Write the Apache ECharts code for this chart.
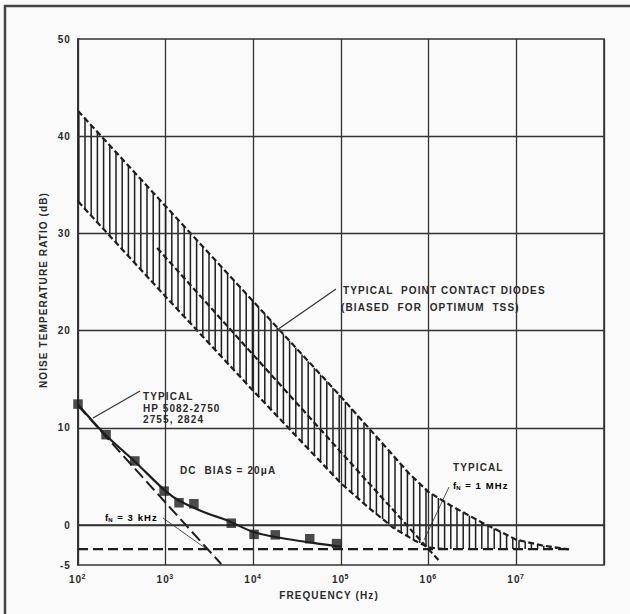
<!DOCTYPE html>
<html><head><meta charset="utf-8">
<script src="https://cdn.jsdelivr.net/npm/echarts@6/dist/echarts.min.js"></script>
<style>html,body{margin:0;padding:0;background:#fafafa}#c{width:630px;height:614px}#c svg text{letter-spacing:1.1px}</style>
</head><body><div id="c"></div>
<script>
// ---- data ----
const yTickValues = [-4.1, 0, 10, 20, 30, 40, 50];
const yTickLabels = ['-5', '0', '10', '20', '30', '40', '50'];
const yGridValues = [0, 10, 20, 30, 40];
const xMaxLabelExp = 7;

// point contact diode band: upper boundary
const upperBound = [[1e2,42.6],[1e3,32.8],[1e4,23.0],[1e5,13.2],[6e5,5.3],[1e6,3.4],[1.8e6,2.0],[4e6,0.3],[1e7,-1.5],[2e7,-2.1],[4e7,-2.5]];
// lower boundary
const lowerBound = [[1e2,33.3],[1e3,23.5],[1e4,13.8],[1e5,4.3],[2e5,1.9],[4e5,-0.3],[7e5,-1.6],[1e6,-2.3],[1.5e6,-2.46]];
// typical fN = 1 MHz asymptote
const typical1MHz = [[8e2,28.5],[1e4,17.5],[1e5,7.5],[1e6,-2.5],[1.3e6,-3.6]];
// noise floor
const floorLine = [[1e2,-2.46],[4e7,-2.46]];
// fN = 3 kHz asymptote
const asym3kHz = [[1e2,12.3],[1e3,2.3],[4.3e3,-4.0]];
// HP 5082-2750 typical curve
const hpCurve = [[1e2,12.4],[2e2,9.4],[4.5e2,6.5],[1e3,3.5],[1.5e3,2.4],[3e3,1.2],[5e3,0.5],[1e4,-0.7],[2e4,-1.3],[5e4,-1.85],[1e5,-2.2]];
// measured points
const hpPoints = [[100,12.45],[209,9.3],[445,6.6],[960,3.5],[1420,2.3],[2100,2.2],[5600,0.2],[10200,-0.95],[17800,-1.0],[44000,-1.4],[89000,-1.9]];

// ---- styles ----
const INK = '#1e1e1e';
const TXT = '#2a2a2a';
const FONT = '"Liberation Sans", Arial, sans-serif';
const HATCH_STEP = 6.2;

const chart = echarts.init(document.getElementById('c'), null, {renderer:'svg'});

function dashed(data, dash, w) {
  return {type:'line', data, showSymbol:false, symbol:'none', silent:true, animation:false,
    lineStyle:{color:INK, width:w, type:dash}, z:4};
}
function yAt(poly, x) {
  for (let i = 0; i < poly.length - 1; i++) {
    const a = poly[i], b = poly[i + 1];
    if (x >= a[0] && x <= b[0]) return a[1] + (b[1] - a[1]) * (x - a[0]) / (b[0] - a[0]);
  }
  return null;
}

const bandLower = lowerBound.concat([floorLine[1]]);

const subRich = {
  a:{fontFamily:FONT, fontSize:9.5, fontWeight:'bold', color:TXT},
  s:{fontFamily:FONT, fontSize:6, fontWeight:'bold', color:TXT, padding:[5,1,0,0]}
};

const option = {
  backgroundColor:'#fafafa',
  animation:false,
  grid:{left:78, right:26, top:39, bottom:49, show:true, borderColor:'#333', borderWidth:1.6},
  xAxis:{type:'log', logBase:10, min:1e2, max:1e8,
    axisLine:{show:true, lineStyle:{color:'#333', width:1.6}},
    axisTick:{show:false},
    splitLine:{show:true, lineStyle:{color:'#333', width:1.3}},
    axisLabel:{margin:8, formatter:v => { const e = Math.round(Math.log10(v)); return e > xMaxLabelExp ? '' : '{b|10}{s|' + e + '}'; },
      rich:{b:{fontFamily:FONT, fontSize:10, fontWeight:'bold', color:TXT}, s:{fontFamily:FONT, fontSize:7, fontWeight:'bold', color:TXT, verticalAlign:'top', padding:[0,0,6,1]}}}
  },
  yAxis:{type:'value', min:-4.1, max:50,
    axisLine:{show:true, lineStyle:{color:'#333', width:1.6}},
    axisTick:{show:false},
    splitLine:{show:false},
    axisLabel:{customValues:yTickValues, margin:7, fontFamily:FONT, fontSize:10, fontWeight:'bold', color:TXT,
      formatter:v => { const i = yTickValues.indexOf(v); return i < 0 ? '' : yTickLabels[i]; }}
  },
  series:[
    {type:'custom', coordinateSystem:'cartesian2d', silent:true, z:2, clip:true,
      data:[[1e3,10]],
      renderItem:(params, api) => {
        const up = upperBound.map(p => api.coord(p));
        const lo = bandLower.map(p => api.coord(p));
        const children = [];
        for (let x = up[0][0] + 0.8; x < up[up.length - 1][0]; x += HATCH_STEP) {
          const ya = yAt(up, x), yb = yAt(lo, x);
          if (ya != null && yb != null && yb - ya > 1)
            children.push({type:'line', shape:{x1:x, y1:ya, x2:x, y2:yb}, style:{stroke:INK, lineWidth:1.5}});
        }
        return {type:'group', children};
      }},
    Object.assign(dashed(floorLine, [10,5], 2.2), {
      markLine:{silent:true, symbol:['none','none'], label:{show:false}, animation:false,
        lineStyle:{color:'#333', type:'solid', width:1.3},
        data: yGridValues.map(v => ({yAxis:v}))}}),
    dashed(upperBound, [6,3], 2.2),
    dashed(lowerBound, [6,3], 2.2),
    dashed(typical1MHz, [6,3], 2.2),
    dashed(asym3kHz, [12,5], 2),
    {type:'line', data:hpCurve, smooth:0.35, showSymbol:false, symbol:'none', silent:true, z:5,
      lineStyle:{color:INK, width:2.2}},
    {type:'scatter', data:hpPoints, symbol:'rect', symbolSize:9.5, silent:true, z:6,
      itemStyle:{color:INK}}
  ],
  graphic:[
    {type:'rect', shape:{x:5, y:6, width:700, height:700}, style:{fill:'none', stroke:'#444', lineWidth:2.5}, silent:true},
    {type:'text', x:43, y:290, rotation:Math.PI/2, style:{text:'NOISE TEMPERATURE RATIO (dB)', font:'bold 10px ' + FONT, fill:TXT, textAlign:'center', textVerticalAlign:'middle'}},
    {type:'text', x:329, y:595, style:{text:'FREQUENCY (Hz)', font:'bold 10px ' + FONT, fill:TXT, textAlign:'center', textVerticalAlign:'middle'}},
    // point contact annotation
    {type:'text', x:343, y:290, style:{text:'TYPICAL  POINT CONTACT DIODES', font:'bold 10px ' + FONT, fill:TXT, textVerticalAlign:'middle'}},
    {type:'text', x:341, y:307, style:{text:'(BIASED  FOR  OPTIMUM  TSS)', font:'bold 10px ' + FONT, fill:TXT, textVerticalAlign:'middle'}},
    {type:'line', shape:{x1:336, y1:289, x2:277, y2:330}, style:{stroke:'#333', lineWidth:1.2}},
    // HP annotation
    {type:'text', x:143, y:396, style:{text:'TYPICAL', font:'bold 10px ' + FONT, fill:TXT, textVerticalAlign:'middle'}},
    {type:'text', x:143, y:408, style:{text:'HP 5082-2750', font:'bold 10px ' + FONT, fill:TXT, textVerticalAlign:'middle'}},
    {type:'text', x:143, y:419, style:{text:'2755, 2824', font:'bold 10px ' + FONT, fill:TXT, textVerticalAlign:'middle'}},
    {type:'line', shape:{x1:140, y1:391, x2:93, y2:418}, style:{stroke:'#333', lineWidth:1.2}},
    {type:'text', x:180, y:470, style:{text:'DC  BIAS = 20\u03bcA', font:'bold 10px ' + FONT, fill:TXT, textVerticalAlign:'middle'}},
    // fN = 3 kHz
    {type:'text', x:105, y:517, style:{text:'{a|f}{s|N}{a| = 3 kHz}', textVerticalAlign:'middle', rich:subRich}},
    {type:'line', shape:{x1:163, y1:518, x2:205, y2:548}, style:{stroke:'#555', lineWidth:1}},
    // fN = 1 MHz
    {type:'text', x:453, y:467, style:{text:'TYPICAL', font:'bold 10px ' + FONT, fill:TXT, textVerticalAlign:'middle'}},
    {type:'text', x:453, y:485, style:{text:'{a|f}{s|N}{a| = 1 MHz}', textVerticalAlign:'middle', rich:subRich}},
    {type:'line', shape:{x1:449, y1:487, x2:424, y2:540}, style:{stroke:'#555', lineWidth:1}}
  ]
};
chart.setOption(option);
</script>
</body></html>
